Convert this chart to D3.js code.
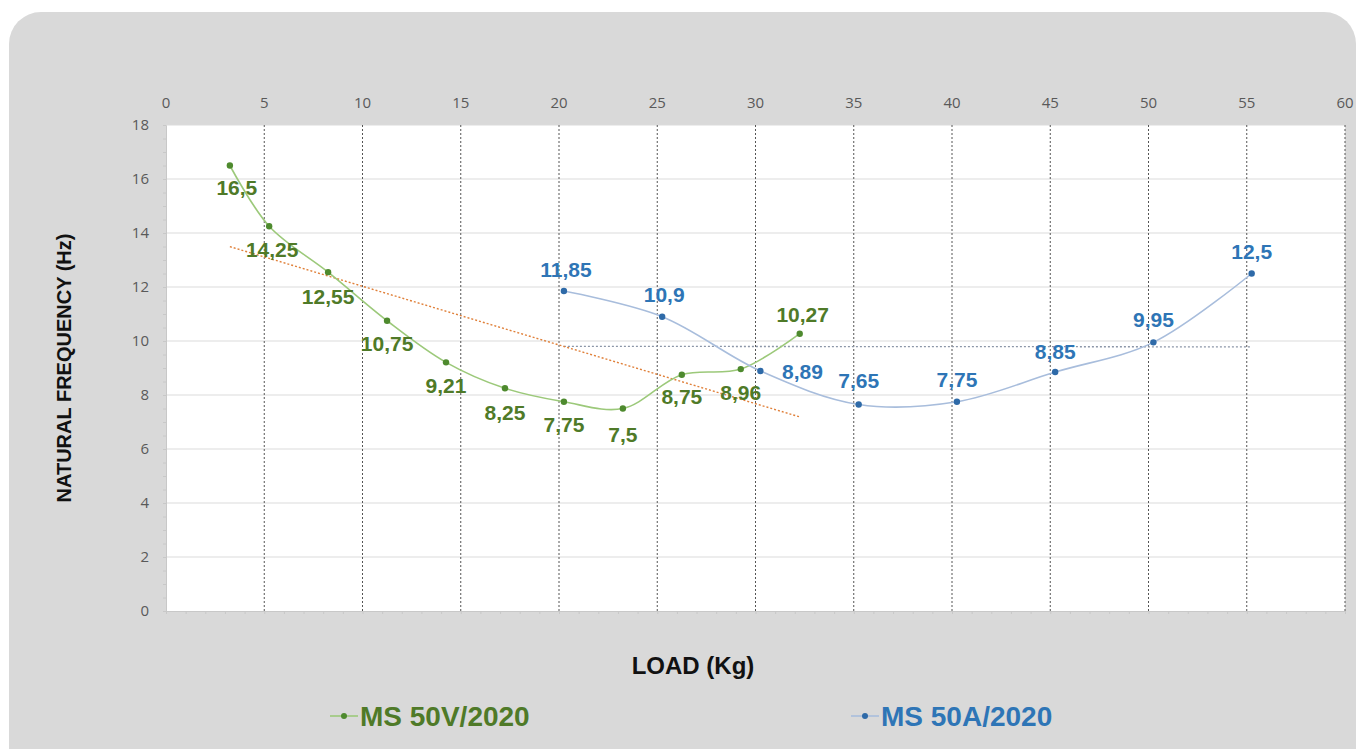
<!DOCTYPE html>
<html>
<head>
<meta charset="utf-8">
<script src="https://cdn.jsdelivr.net/npm/d3@7"></script>
<style>
  body { margin: 0; background: #fff; }
  svg { display: block; }
</style>
</head>
<body>
<div id="my-chart"></div>
<script>

// data
var loadsV = [3.25, 5.25, 8.25, 11.25, 14.25, 17.25, 20.25, 23.25, 26.25, 29.25, 32.25];
var freqV = [16.5, 14.25, 12.55, 10.75, 9.21, 8.25, 7.75, 7.5, 8.75, 8.96, 10.27];
var labelsV = ['16,5', '14,25', '12,55', '10,75', '9,21', '8,25', '7,75', '7,5', '8,75', '8,96', '10,27'];

var loadsA = [20.25, 25.25, 30.25, 35.25, 40.25, 45.25, 50.25, 55.25];
var freqA = [11.85, 10.9, 8.89, 7.65, 7.75, 8.85, 9.95, 12.5];
var labelsA = ['11,85', '10,9', '8,89', '7,65', '7,75', '8,85', '9,95', '12,5'];

var xTicks = [0, 5, 10, 15, 20, 25, 30, 35, 40, 45, 50, 55, 60];
var yTicks = [0, 2, 4, 6, 8, 10, 12, 14, 16, 18];
var seriesNames = ['MS 50V/2020', 'MS 50A/2020'];

// label offsets (dx, dy) for each point
var offV = [[7, 29], [3, 31], [0, 32], [0, 30], [0, 31], [0, 32], [0, 30], [0, 33], [0, 29], [0, 31], [3, -12]];
var offA = [[2, -14], [2, -15], [42, 8], [0, -16], [0, -15], [0, -13], [0, -15], [0, -15]];

var width = 1359, height = 749;
var margin = {top: 125, right: 14, bottom: 138, left: 166};

var svg = d3.select('#my-chart')
    .append('svg')
    .attr('width', width)
    .attr('height', height);

// grey card background
svg.append('rect')
    .attr('x', 9).attr('y', 12)
    .attr('width', width - 12).attr('height', height + 40)
    .attr('rx', 32)
    .attr('fill', '#d9d9d9');

var x = d3.scaleLinear().domain([0, 60]).range([margin.left, width - margin.right]);
var y = d3.scaleLinear().domain([0, 18]).range([height - margin.bottom, margin.top]);

// plot area
svg.append('rect')
    .attr('x', x(0)).attr('y', y(18))
    .attr('width', x(60) - x(0)).attr('height', y(0) - y(18))
    .attr('fill', '#fff');

// horizontal gridlines
svg.append('g').selectAll('line')
    .data(yTicks.slice(1))
    .join('line')
    .attr('x1', x(0)).attr('x2', x(60))
    .attr('y1', function(d) { return y(d); })
    .attr('y2', function(d) { return y(d); })
    .attr('stroke', '#dcdcdc')
    .attr('stroke-width', 1.2);

// vertical dotted gridlines
svg.append('g').selectAll('line')
    .data(xTicks.slice(1))
    .join('line')
    .attr('x1', function(d) { return x(d); })
    .attr('x2', function(d) { return x(d); })
    .attr('y1', y(18)).attr('y2', y(0))
    .attr('stroke', '#555')
    .attr('stroke-width', 1)
    .attr('stroke-dasharray', '2,2');

// left and bottom axis with minor ticks
var yAxis = svg.append('g')
    .attr('transform', 'translate(' + x(0) + ',0)')
    .call(d3.axisLeft(y).tickValues(d3.range(0, 18.01, 0.5)).tickSize(3).tickFormat(''));
yAxis.selectAll('line, path').attr('stroke', '#c8c8c8');

var xAxis = svg.append('g')
    .attr('transform', 'translate(0,' + y(0) + ')')
    .call(d3.axisBottom(x).tickValues(d3.range(0, 60.01, 1)).tickSize(3).tickFormat(''));
xAxis.selectAll('line, path').attr('stroke', '#c8c8c8');

// tick labels
svg.append('g').selectAll('text')
    .data(xTicks)
    .join('text')
    .attr('x', function(d) { return x(d); })
    .attr('y', 108)
    .attr('text-anchor', 'middle')
    .attr('font-family', 'Open Sans, sans-serif')
    .attr('font-size', 15)
    .attr('fill', '#595959')
    .text(function(d) { return d; });

svg.append('g').selectAll('text')
    .data(yTicks)
    .join('text')
    .attr('x', 149)
    .attr('y', function(d) { return y(d) + 5; })
    .attr('text-anchor', 'end')
    .attr('font-family', 'Open Sans, sans-serif')
    .attr('font-size', 15)
    .attr('fill', '#595959')
    .text(function(d) { return d; });

// axis titles
svg.append('text')
    .attr('transform', 'translate(71,' + y(9) + ') rotate(-90)')
    .attr('text-anchor', 'middle')
    .attr('font-family', 'Liberation Sans, Arial, sans-serif')
    .attr('font-weight', 'bold')
    .attr('font-size', 20)
    .attr('fill', '#111')
    .text('NATURAL FREQUENCY (Hz)');

svg.append('text')
    .attr('x', 693).attr('y', 674)
    .attr('text-anchor', 'middle')
    .attr('font-family', 'Liberation Sans, Arial, sans-serif')
    .attr('font-weight', 'bold')
    .attr('font-size', 24)
    .attr('fill', '#111')
    .text('LOAD (Kg)');

// linear trendlines from the data
function trend(xs, ys) {
    var mx = d3.mean(xs), my = d3.mean(ys);
    var num = d3.sum(xs, function(v, i) { return (v - mx) * (ys[i] - my); });
    var den = d3.sum(xs, function(v) { return (v - mx) * (v - mx); });
    var b = num / den, a = my - b * mx;
    var x0 = d3.min(xs), x1 = d3.max(xs);
    return [[x0, a + b * x0], [x1, a + b * x1]];
}

var trendLine = d3.line()
    .x(function(d) { return x(d[0]); })
    .y(function(d) { return y(d[1]); });

svg.append('path')
    .attr('d', trendLine(trend(loadsA, freqA)))
    .attr('fill', 'none')
    .attr('stroke', '#8c96a8')
    .attr('stroke-width', 1.3)
    .attr('stroke-dasharray', '2,2');

svg.append('path')
    .attr('d', trendLine(trend(loadsV, freqV)))
    .attr('fill', 'none')
    .attr('stroke', '#e0803a')
    .attr('stroke-width', 1.4)
    .attr('stroke-dasharray', '2,2');

// series
var smooth = d3.line()
    .x(function(d) { return x(d[0]); })
    .y(function(d) { return y(d[1]); })
    .curve(d3.curveCatmullRom.alpha(0.5));

function drawSeries(xs, ys, labels, offs, lineColor, dotColor, textColor) {
    var pts = xs.map(function(v, i) { return [v, ys[i]]; });
    svg.append('path')
        .datum(pts)
        .attr('fill', 'none')
        .attr('stroke', lineColor)
        .attr('stroke-width', 1.6)
        .attr('d', smooth);
    svg.append('g').selectAll('circle')
        .data(pts)
        .join('circle')
        .attr('cx', function(d) { return x(d[0]); })
        .attr('cy', function(d) { return y(d[1]); })
        .attr('r', 3.2)
        .attr('fill', dotColor);
    svg.append('g').selectAll('text')
        .data(pts)
        .join('text')
        .attr('x', function(d, i) { return x(d[0]) + offs[i][0]; })
        .attr('y', function(d, i) { return y(d[1]) + offs[i][1]; })
        .attr('text-anchor', 'middle')
        .attr('font-family', 'Liberation Sans, Arial, sans-serif')
        .attr('font-weight', 'bold')
        .attr('font-size', 21)
        .attr('fill', textColor)
        .text(function(d, i) { return labels[i]; });
}

drawSeries(loadsV, freqV, labelsV, offV, '#9cc97a', '#4e8a2e', '#4f7a28');
drawSeries(loadsA, freqA, labelsA, offA, '#a8bddc', '#2e6aa8', '#2e75b6');

// legend
var legend = [
    {name: seriesNames[0], x: 330, line: '#9cc97a', dot: '#4e8a2e', text: '#4f7a28'},
    {name: seriesNames[1], x: 851, line: '#a8bddc', dot: '#2e6aa8', text: '#2e75b6'}
];
var lg = svg.append('g').selectAll('g')
    .data(legend)
    .join('g')
    .attr('transform', function(d) { return 'translate(' + d.x + ',716)'; });
lg.append('line')
    .attr('x1', 0).attr('x2', 28)
    .attr('stroke', function(d) { return d.line; })
    .attr('stroke-width', 1.6);
lg.append('circle')
    .attr('cx', 14).attr('r', 3)
    .attr('fill', function(d) { return d.dot; });
lg.append('text')
    .attr('x', 30).attr('y', 10)
    .attr('font-family', 'Liberation Sans, Arial, sans-serif')
    .attr('font-weight', 'bold')
    .attr('font-size', 28)
    .attr('fill', function(d) { return d.text; })
    .text(function(d) { return d.name; });

</script>
</body>
</html>
